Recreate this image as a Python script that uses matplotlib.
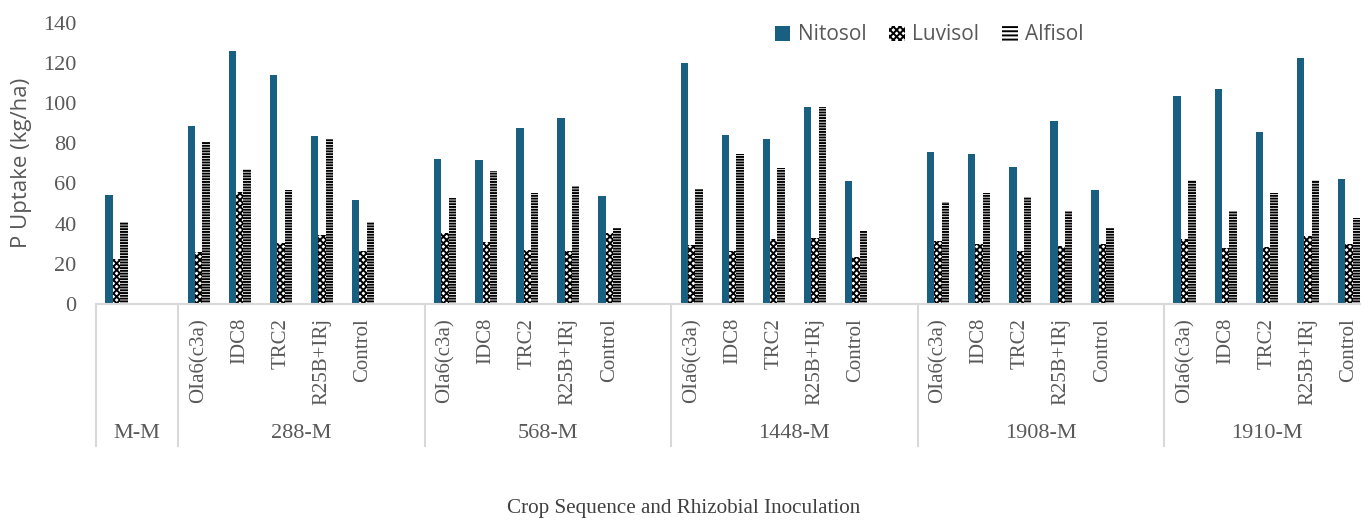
import numpy as np
import matplotlib
matplotlib.use("Agg")
from matplotlib import pyplot as plt
from matplotlib.patches import Patch

# crop sequences (groups) and inoculation treatments
groups = ["M-M", "288-M", "568-M", "1448-M", "1908-M", "1910-M"]
treatments = ["OIa6(c3a)", "IDC8", "TRC2", "R25B+IRj", "Control"]

# P uptake (kg/ha); M-M has a single bar, the other groups one per treatment
nitosol = [54.2,
           88.6, 125.9, 114.0, 83.6, 51.8,
           72.0, 71.7, 87.4, 92.4, 53.8,
           119.8, 84.0, 82.0, 97.9, 61.1,
           75.7, 74.8, 68.0, 91.1, 56.7,
           103.5, 106.9, 85.8, 122.6, 62.1]
luvisol = [22.2,
           25.7, 55.6, 30.4, 34.3, 26.4,
           35.5, 31.0, 26.9, 26.5, 35.2,
           29.4, 26.5, 32.2, 32.9, 23.4,
           31.4, 29.9, 26.4, 28.9, 30.0,
           32.4, 27.9, 28.2, 33.7, 29.9]
alfisol = [40.7,
           80.8, 67.2, 56.7, 82.3, 41.0,
           52.9, 66.2, 55.4, 58.9, 38.0,
           57.1, 74.7, 67.9, 97.9, 36.5,
           50.9, 55.4, 53.3, 46.4, 37.7,
           61.6, 46.3, 55.4, 61.7, 42.7]

# slot layout: one empty slot after every group
labels = [""]
pos = [0]
group_bounds = [(-0.5, 1.5)]
slot = 2
for g in groups[1:]:
    start = slot
    for t in treatments:
        labels.append(t)
        pos.append(slot)
        slot += 1
    group_bounds.append((start - 0.5, slot + 0.5))
    slot += 1
group_bounds[-1] = (group_bounds[-1][0], group_bounds[-1][1] - 1)
pos = np.array(pos)

plt.rcParams["hatch.linewidth"] = 1.4
grey = "#595959"
serif = "Liberation Serif"
sans = "Open Sans"
checker = "xxxxx"
dashes = "------"

fig = plt.figure(figsize=(13.61, 5.2), dpi=100)
ax = fig.add_axes([0.0705, 0.4154, 0.9357, 0.541])

w = 0.18
ax.bar(pos - w, nitosol, w, color="#185f82", label="Nitosol")
ax.bar(pos, luvisol, w, color="white", edgecolor="black", linewidth=0,
       hatch=checker, label="Luvisol")
ax.bar(pos + w, alfisol, w, color="white", edgecolor="black", linewidth=0,
       hatch=dashes, label="Alfisol")

ax.set_xlim(-0.5, 30.5)
ax.set_ylim(0, 140)
ax.set_yticks(range(0, 141, 20))
ax.set_xticks(pos)
ax.set_xticklabels(labels, rotation=90, family=serif, fontsize=15, color=grey)
ax.tick_params(axis="x", length=0, pad=10)
ax.tick_params(axis="y", length=0, pad=14, labelsize=16, labelcolor=grey)
for t in ax.get_yticklabels():
    t.set_family(serif)

for s in ["top", "right", "left"]:
    ax.spines[s].set_visible(False)
ax.spines["bottom"].set_color("#d9d9d9")
ax.spines["bottom"].set_linewidth(1.5)

# group dividers and names below the tick labels
trans = ax.get_xaxis_transform()
for g, (a, b) in zip(groups, group_bounds):
    ax.plot([a, a], [0, -0.505], transform=trans, clip_on=False,
            color="#d9d9d9", lw=1.5)
    ax.text((a + b) / 2, -0.459, g, transform=trans, ha="center", va="center",
            family=serif, fontsize=16, color=grey)

ax.set_ylabel("P Uptake (kg/ha)", family=sans, fontsize=16, color=grey,
              labelpad=8)
fig.text(0.5025, 0.023, "Crop Sequence and Rhizobial Inoculation", ha="center",
         va="center", family=serif, fontsize=15.2, color="#404040")

handles = [Patch(facecolor="#185f82", label="Nitosol"),
           Patch(facecolor="white", edgecolor="black", linewidth=0,
                 hatch=checker, label="Luvisol"),
           Patch(facecolor="white", edgecolor="black", linewidth=0,
                 hatch="----", label="Alfisol")]
leg = fig.legend(handles=handles, loc="center", bbox_to_anchor=(0.6826, 0.9327),
                 ncol=3, frameon=False, handlelength=0.75, handleheight=0.75,
                 handletextpad=0.35, columnspacing=1.1,
                 prop={"family": sans, "size": 15})
for t in leg.get_texts():
    t.set_color(grey)

fig.savefig("out.png", dpi=100)
